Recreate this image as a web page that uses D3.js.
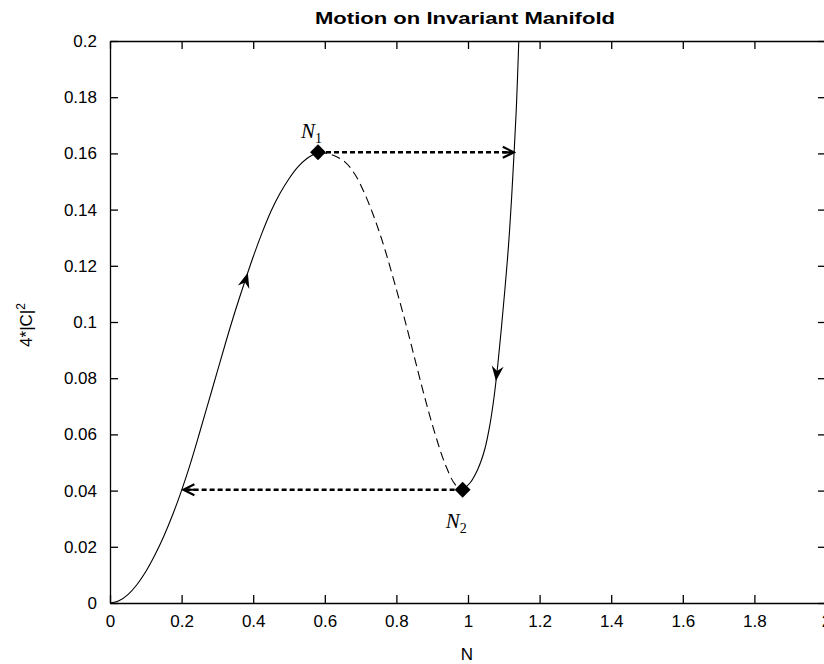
<!DOCTYPE html>
<html>
<head>
<meta charset="utf-8">
<script src="https://cdn.jsdelivr.net/npm/d3@7"></script>
<style>
  body { margin: 0; background: #fff; }
  svg { display: block; }
  .tick-label { font-family: "Liberation Sans", Arial, sans-serif; font-size: 17px; fill: #000; }
</style>
</head>
<body>
<div id="chart"></div>
<script>
/* Motion on invariant manifold: S-shaped curve with jumps */

// lower stable branch (N, 4|C|^2)
const lowBranchN = [0, 0.025, 0.05, 0.075, 0.1, 0.125, 0.15, 0.175, 0.2, 0.225, 0.25, 0.275, 0.3, 0.325, 0.35, 0.375, 0.4, 0.425, 0.45, 0.475, 0.5, 0.525, 0.55, 0.575, 0.581];
const lowBranchY = [0, 0.0008, 0.003, 0.0065, 0.0112, 0.017, 0.0237, 0.0314, 0.0401, 0.0498, 0.0605, 0.0715, 0.0825, 0.0935, 0.104, 0.1138, 0.1232, 0.1318, 0.1395, 0.1458, 0.151, 0.1552, 0.1582, 0.16, 0.1604];

// middle (unstable) branch, dashed
const midBranchN = [0.581, 0.62, 0.656, 0.684, 0.712, 0.74, 0.768, 0.796, 0.824, 0.852, 0.88, 0.908, 0.936, 0.964, 0.985];
const midBranchY = [0.1604, 0.1595, 0.157, 0.1526, 0.1455, 0.1365, 0.1258, 0.1134, 0.1005, 0.0866, 0.0728, 0.0602, 0.0495, 0.0422, 0.0403];

// upper stable branch
const highBranchN = [0.985, 1.006, 1.028, 1.047, 1.061, 1.073, 1.083, 1.093, 1.103, 1.113, 1.121, 1.128, 1.135, 1.142];
const highBranchY = [0.0403, 0.0428, 0.0478, 0.0548, 0.0633, 0.0735, 0.0845, 0.0975, 0.1115, 0.127, 0.1425, 0.1585, 0.176, 0.2004];

// turning points
const turnNames = ["1", "2"];
const turnN = [0.581, 0.985];
const turnY = [0.1604, 0.0403];

// jumps: [fromN, fromY, toN, toY]
const jumps = [
  [0.581, 0.1604, 1.128, 0.1604],
  [0.985, 0.0403, 0.205, 0.0403]
];

// direction arrows on the curve: [N, y, N ahead, y ahead]
const flowArrows = [
  [0.37, 0.111, 0.385, 0.1175],
  [1.083, 0.0845, 1.078, 0.079]
];

const xTicks = [0, 0.2, 0.4, 0.6, 0.8, 1, 1.2, 1.4, 1.6, 1.8, 2];
const yTicks = [0, 0.02, 0.04, 0.06, 0.08, 0.1, 0.12, 0.14, 0.16, 0.18, 0.2];

const width = 824, height = 664;
const margin = { top: 41, right: -2, bottom: 61, left: 110 };

const svg = d3.select("#chart").append("svg")
  .attr("width", width)
  .attr("height", height);

const x = d3.scaleLinear().domain([0, 2]).range([margin.left, width - margin.right]);
const y = d3.scaleLinear().domain([0, 0.2]).range([height - margin.bottom, margin.top]);

const fmt = d => d3.format("")(+d.toFixed(2));

// axes, MATLAB style: ticks inward on all four sides
const tl = 8;
svg.append("g")
  .attr("transform", `translate(0,${y(0)})`)
  .call(d3.axisBottom(x).tickValues(xTicks).tickSizeInner(-tl).tickSizeOuter(0).tickPadding(12).tickFormat(fmt))
  .call(g => g.selectAll("text").attr("class", "tick-label"));
svg.append("g")
  .attr("transform", `translate(0,${y(0.2)})`)
  .call(d3.axisTop(x).tickValues(xTicks).tickSizeInner(-tl).tickSizeOuter(0).tickFormat(""));
svg.append("g")
  .attr("transform", `translate(${x(0)},0)`)
  .call(d3.axisLeft(y).tickValues(yTicks).tickSizeInner(-tl).tickSizeOuter(0).tickPadding(13).tickFormat(fmt))
  .call(g => g.selectAll("text").attr("class", "tick-label"));
svg.append("g")
  .attr("transform", `translate(${x(2)},0)`)
  .call(d3.axisRight(y).tickValues(yTicks).tickSizeInner(-tl).tickSizeOuter(0).tickFormat(""));

svg.selectAll(".domain").attr("stroke", "#000").attr("stroke-width", 1.3);
svg.selectAll(".tick line").attr("stroke", "#000").attr("stroke-width", 1.3);

// clip the curve to the axes box
svg.append("clipPath").attr("id", "box")
  .append("rect")
  .attr("x", x(0)).attr("y", y(0.2))
  .attr("width", x(2) - x(0)).attr("height", y(0) - y(0.2));

const lineY = d3.line().x(d => x(d[0])).y(d => y(d[1])).curve(d3.curveCatmullRom);

const plot = svg.append("g").attr("clip-path", "url(#box)");

plot.append("path")
  .datum(lowBranchN.map((n, i) => [n, lowBranchY[i]]))
  .attr("d", lineY)
  .attr("fill", "none")
  .attr("stroke", "#000")
  .attr("stroke-width", 1.1);

plot.append("path")
  .datum(midBranchN.map((n, i) => [n, midBranchY[i]]))
  .attr("d", lineY)
  .attr("fill", "none")
  .attr("stroke", "#000")
  .attr("stroke-width", 1.1)
  .attr("stroke-dasharray", "9,5");

plot.append("path")
  .datum(highBranchN.map((n, i) => [n, highBranchY[i]]))
  .attr("d", lineY)
  .attr("fill", "none")
  .attr("stroke", "#000")
  .attr("stroke-width", 1.1);

// jump arrows (dotted, open head)
svg.append("defs").append("marker")
  .attr("id", "open")
  .attr("viewBox", "-12 -7 14 14")
  .attr("refX", 0).attr("refY", 0)
  .attr("markerWidth", 14).attr("markerHeight", 14)
  .attr("markerUnits", "userSpaceOnUse")
  .attr("orient", "auto")
  .append("path")
  .attr("d", "M-11,-5.5 L0,0 L-11,5.5 M-11,0 L0,0")
  .attr("fill", "none")
  .attr("stroke", "#000")
  .attr("stroke-width", 2.2);

svg.append("g")
  .selectAll("line")
  .data(jumps)
  .join("line")
  .attr("x1", d => x(d[0]))
  .attr("y1", d => y(d[1]))
  .attr("x2", d => x(d[2]))
  .attr("y2", d => y(d[3]))
  .attr("stroke", "#000")
  .attr("stroke-width", 2.6)
  .attr("stroke-dasharray", "5,3")
  .attr("marker-end", "url(#open)");

// flow direction arrowheads
svg.append("g")
  .selectAll("path")
  .data(flowArrows)
  .join("path")
  .attr("d", "M0,0 L-15,-6 L-10,0 L-15,6 Z")
  .attr("fill", "#000")
  .attr("transform", d => {
    const a = Math.atan2(y(d[3]) - y(d[1]), x(d[2]) - x(d[0])) * 180 / Math.PI;
    return `translate(${x(d[2])},${y(d[3])}) rotate(${a})`;
  });

// turning point diamonds
svg.append("g")
  .selectAll("path")
  .data(turnN)
  .join("path")
  .attr("d", d3.symbol().type(d3.symbolDiamond2).size(160))
  .attr("fill", "#000")
  .attr("transform", (d, i) => `translate(${x(d)},${y(turnY[i])})`);

// N1, N2 labels
const lbl = svg.append("g")
  .selectAll("text")
  .data(turnNames)
  .join("text")
  .attr("x", (d, i) => x(turnN[i]) - 17)
  .attr("y", (d, i) => i === 0 ? y(turnY[i]) - 14 : y(turnY[i]) + 38)
  .attr("font-family", "'Liberation Serif', 'DejaVu Serif', serif")
  .attr("font-style", "italic")
  .attr("font-size", 21);
lbl.append("tspan").text("N");
lbl.append("tspan").attr("dy", 5).attr("font-size", 14).attr("font-style", "normal").text(d => d);

// title and axis labels
svg.append("text")
  .attr("x", 465)
  .attr("y", 24)
  .attr("text-anchor", "middle")
  .attr("font-family", "'Liberation Sans Narrow', 'Liberation Sans', Arial, sans-serif")
  .attr("font-weight", "bold")
  .attr("font-size", 17)
  .attr("textLength", 300)
  .attr("lengthAdjust", "spacingAndGlyphs")
  .text("Motion on Invariant Manifold");

svg.append("text")
  .attr("x", 467)
  .attr("y", 660)
  .attr("text-anchor", "middle")
  .attr("class", "tick-label")
  .text("N");

const yl = svg.append("text")
  .attr("transform", `translate(32,${325}) rotate(-90)`)
  .attr("text-anchor", "middle")
  .attr("class", "tick-label");
yl.append("tspan").text("4*|C|");
yl.append("tspan").attr("dy", -7).attr("font-size", 12).text("2");
</script>
</body>
</html>
